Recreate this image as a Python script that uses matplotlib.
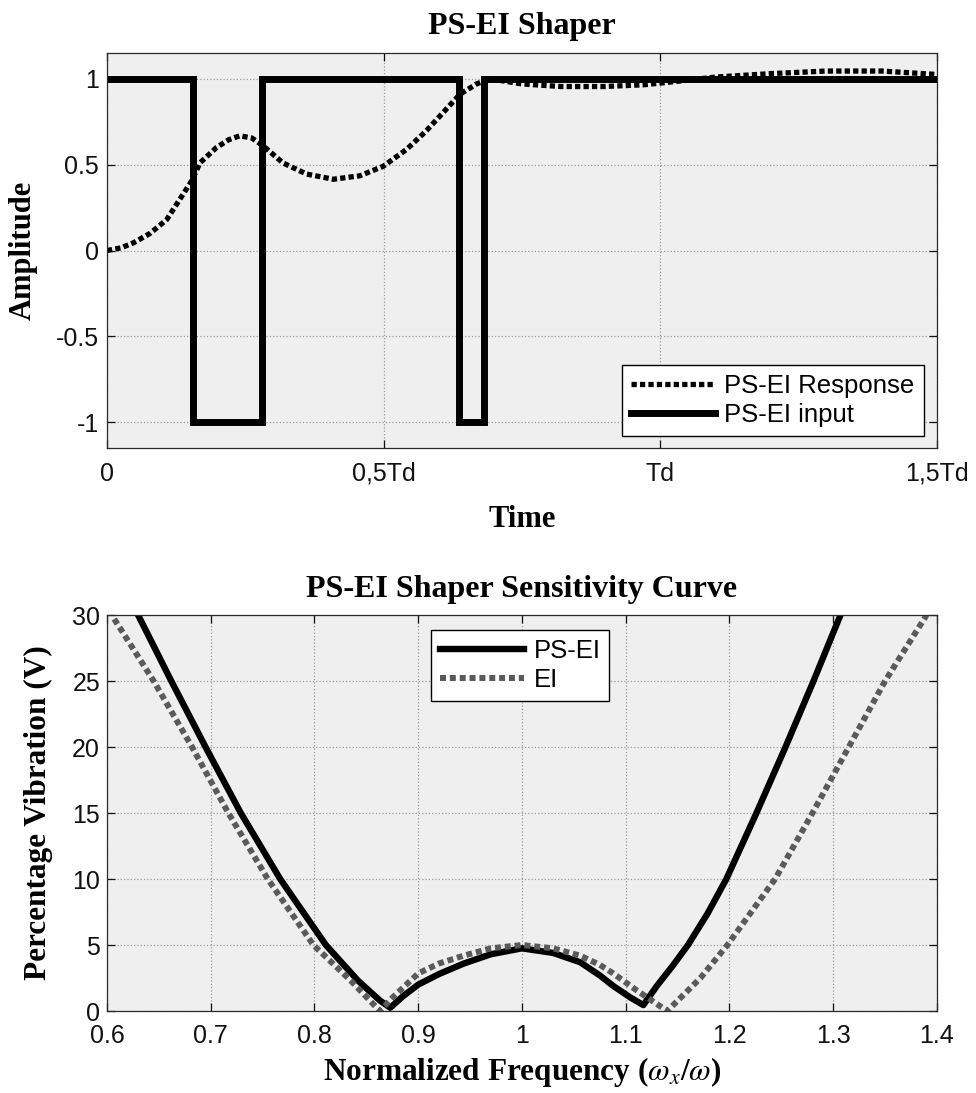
import matplotlib
matplotlib.use('Agg')
import matplotlib.pyplot as plt

plt.rcParams['axes.unicode_minus'] = False
plt.rcParams['mathtext.fontset'] = 'stix'

# 输入指令（开关时刻，单位 Td）和对应幅值
input_t = [0.0, 0.155, 0.280, 0.636, 0.682, 1.5]
input_u = [1, -1, 1, -1, 1, 1]

# 系统响应
resp_t = [0.0, 0.025, 0.048, 0.078, 0.108, 0.132, 0.153, 0.168, 0.198, 0.220, 0.240,
          0.262, 0.282, 0.318, 0.361, 0.409, 0.457, 0.499, 0.542, 0.578, 0.608,
          0.638, 0.668, 0.692, 0.75, 0.82, 0.90, 0.97, 1.03, 1.10, 1.20, 1.30,
          1.40, 1.45, 1.5]
resp_y = [0.0, 0.015, 0.045, 0.10, 0.18, 0.30, 0.405, 0.51, 0.60, 0.645, 0.668,
          0.655, 0.61, 0.51, 0.445, 0.415, 0.435, 0.49, 0.59, 0.70, 0.805,
          0.91, 0.97, 1.0, 0.97, 0.955, 0.955, 0.965, 0.985, 1.01, 1.03, 1.045,
          1.045, 1.035, 1.025]

# 灵敏度曲线 PS-EI
psei_f = [0.630, 0.662, 0.695, 0.729, 0.767, 0.811, 0.842, 0.863, 0.873, 0.885,
          0.900, 0.920, 0.944, 0.970, 1.000, 1.030, 1.056, 1.075, 1.088, 1.105,
          1.117, 1.130, 1.145, 1.160, 1.179, 1.197, 1.226, 1.254, 1.281, 1.307]
psei_v = [30, 25, 20, 15, 10, 5, 2.3, 0.8, 0.25, 1.1,
          2.0, 2.8, 3.6, 4.3, 4.75, 4.4, 3.7, 2.7, 1.9, 1.0,
          0.45, 1.9, 3.4, 5, 7.4, 10, 15, 20, 25, 30]

# 灵敏度曲线 EI
ei_f = [0.607, 0.645, 0.682, 0.717, 0.755, 0.799, 0.835, 0.863, 0.875, 0.900,
        0.920, 0.944, 0.970, 1.000, 1.030, 1.056, 1.075, 1.088, 1.110, 1.125,
        1.140, 1.172, 1.198, 1.244, 1.280, 1.315, 1.350, 1.390]
ei_v = [29.7, 25, 20, 15, 10, 5, 2.3, 0.0, 1.0, 2.85,
        3.6, 4.2, 4.75, 5.0, 4.75, 4.2, 3.5, 2.85, 1.6, 0.8,
        0.0, 2.5, 5, 10, 15, 20, 25, 30]

time_ticks = [0, 0.5, 1, 1.5]
time_labels = ['0', '0,5Td', 'Td', '1,5Td']
amp_ticks = [-1, -0.5, 0, 0.5, 1]
amp_labels = ['-1', '-0.5', '0', '0.5', '1']
freq_ticks = [0.6, 0.7, 0.8, 0.9, 1.0, 1.1, 1.2, 1.3, 1.4]
freq_labels = ['0.6', '0.7', '0.8', '0.9', '1', '1.1', '1.2', '1.3', '1.4']
vib_ticks = [0, 5, 10, 15, 20, 25, 30]

sans = 'Liberation Sans'
serif = 'Liberation Serif'
bg = '#efefef'


def style_axes(ax):
    ax.set_facecolor(bg)
    ax.grid(True, linestyle=':', linewidth=0.9, color='#9a9a9a')
    ax.tick_params(direction='in', length=6, width=0.9, top=True, right=True,
                   labelsize=18, colors='#111111')
    for lab in ax.get_xticklabels() + ax.get_yticklabels():
        lab.set_fontfamily(sans)
    for s in ax.spines.values():
        s.set_linewidth(0.9)
        s.set_color('#2a2a2a')


def add_legend(ax, handles, **kw):
    leg = ax.legend(handles=handles, borderaxespad=0, fancybox=False, framealpha=1,
                    edgecolor='black', prop={'family': sans, 'size': 18.5},
                    handlelength=3.3, handletextpad=0.35, labelspacing=0.2,
                    borderpad=0.35, **kw)
    leg.get_frame().set_linewidth(1.0)
    return leg


fig = plt.figure(figsize=(9.76, 10.93), dpi=100)

# ---------------- 上图：时域响应 ----------------
ax1 = fig.add_axes([0.1096, 0.5901, 0.8504, 0.3614])
l_resp, = ax1.plot(resp_t, resp_y, color='black', lw=3.8,
                   linestyle=(0, (1.0, 0.6)), label='PS-EI Response')
l_in, = ax1.plot(input_t, input_u, color='black', lw=5, drawstyle='steps-post',
                 solid_joinstyle='miter', label='PS-EI input')
ax1.set_xlim(0, 1.5)
ax1.set_ylim(-1.15, 1.15)
ax1.set_xticks(time_ticks)
ax1.set_xticklabels(time_labels)
ax1.set_yticks(amp_ticks)
ax1.set_yticklabels(amp_labels)
style_axes(ax1)
ax1.tick_params(axis='x', pad=10)
ax1.tick_params(axis='y', pad=6)
ax1.set_title('PS-EI Shaper', fontfamily=serif, fontweight='bold', fontsize=23, pad=14)
ax1.set_xlabel('Time', fontfamily=serif, fontweight='bold', fontsize=22)
ax1.xaxis.set_label_coords(0.5, -0.145)
ax1.set_ylabel('Amplitude', fontfamily=serif, fontweight='bold', fontsize=22)
ax1.yaxis.set_label_coords(-0.084, 0.5)
add_legend(ax1, [l_resp, l_in], loc='lower right', bbox_to_anchor=(0.984, 0.03))

# ---------------- 下图：灵敏度曲线 ----------------
ax2 = fig.add_axes([0.1096, 0.0750, 0.8504, 0.3623])
l_ps, = ax2.plot(psei_f, psei_v, color='black', lw=4.6, label='PS-EI')
l_ei, = ax2.plot(ei_f, ei_v, color='#5a5a5a', lw=4.3,
                 linestyle=(0, (1.0, 0.65)), label='EI')
ax2.set_xlim(0.6, 1.4)
ax2.set_ylim(0, 30)
ax2.set_xticks(freq_ticks)
ax2.set_xticklabels(freq_labels)
ax2.set_yticks(vib_ticks)
style_axes(ax2)
ax2.tick_params(axis='x', pad=9)
ax2.tick_params(axis='y', pad=5)
ax2.set_title('PS-EI Shaper Sensitivity Curve', fontfamily=serif, fontweight='bold',
              fontsize=23, pad=13)
ax2.set_xlabel(r'Normalized Frequency ($\omega_x$/$\omega$)', fontfamily=serif,
               fontweight='bold', fontsize=22.5)
ax2.xaxis.set_label_coords(0.5, -0.112)
ax2.set_ylabel('Percentage Vibration (V)', fontfamily=serif, fontweight='bold', fontsize=22.5)
ax2.yaxis.set_label_coords(-0.065, 0.5)
add_legend(ax2, [l_ps, l_ei], loc='upper left', bbox_to_anchor=(0.39, 0.962))

fig.savefig('out.png', dpi=100)
